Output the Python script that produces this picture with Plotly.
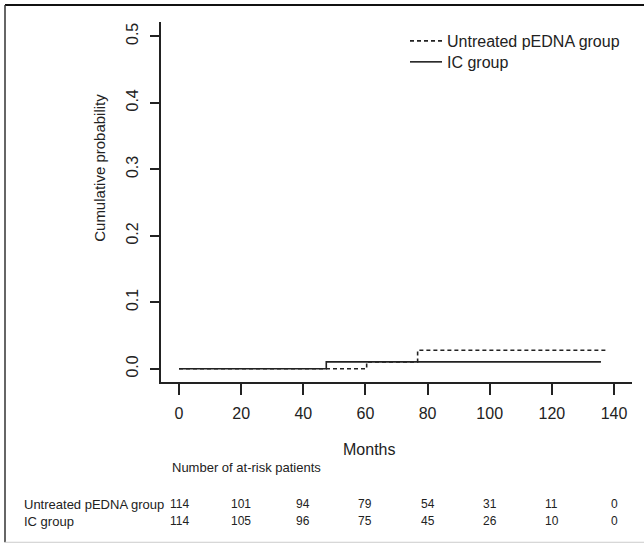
import plotly.graph_objects as go

# ---- data ----
ic_months = [0, 47.4, 135.8]
ic_prob = [0.0, 0.0105, 0.0105]
untreated_months = [0, 60.4, 76.8, 137.6]
untreated_prob = [0.0, 0.0105, 0.028, 0.028]

x_ticks = [0, 20, 40, 60, 80, 100, 120, 140]
y_ticks = [0.0, 0.1, 0.2, 0.3, 0.4, 0.5]
y_ticklabels = ["0.0", "0.1", "0.2", "0.3", "0.4", "0.5"]

risk_times = [0, 20, 40, 60, 80, 100, 120, 140]
risk_untreated = [114, 101, 94, 79, 54, 31, 11, 0]
risk_ic = [114, 105, 96, 75, 45, 26, 10, 0]

name_untreated = "Untreated pEDNA group"
name_ic = "IC group"

# ---- layout geometry (pixels) ----
W, H = 644, 546
L, R, T, B = 161, 632, 22, 382.5
pw, ph = R - L, B - T

def px(x):
    return (x - L) / pw

def py(y):
    return (B - y) / ph

FONT = "Liberation Sans, Arial, sans-serif"
INK = "#222222"

fig = go.Figure()
fig.add_trace(go.Scatter(x=untreated_months, y=untreated_prob, mode="lines",
                         line=dict(shape="hv", color=INK, width=1.6, dash="4px,3px"),
                         name=name_untreated, legend="legend"))
fig.add_trace(go.Scatter(x=ic_months, y=ic_prob, mode="lines",
                         line=dict(shape="hv", color=INK, width=1.6),
                         name=name_ic, legend="legend2"))

annotations = []
annotations.append(dict(text="Cumulative probability", textangle=-90,
                        x=px(100), y=py(168), xref="paper", yref="paper",
                        xanchor="center", yanchor="middle",
                        showarrow=False, font=dict(size=15, color=INK, family=FONT)))
annotations.append(dict(text="Months", x=px(369), y=py(450), xref="paper", yref="paper",
                        xanchor="center", yanchor="middle",
                        showarrow=False, font=dict(size=16, color=INK, family=FONT)))
annotations.append(dict(text="Number of at-risk patients", x=px(170), y=py(468),
                        xref="paper", yref="paper", xanchor="left", yanchor="middle",
                        showarrow=False, font=dict(size=13, color=INK, family=FONT)))
for label, row, ypix in [(name_untreated, risk_untreated, 505), (name_ic, risk_ic, 522)]:
    annotations.append(dict(text=label, x=px(22), y=py(ypix), xref="paper", yref="paper",
                            xanchor="left", yanchor="middle", showarrow=False,
                            font=dict(size=13, color=INK, family=FONT)))
    for t, n in zip(risk_times, row):
        annotations.append(dict(text=str(n), x=t, y=py(ypix), xref="x", yref="paper",
                                xanchor="center", yanchor="middle", showarrow=False,
                                font=dict(size=12, color=INK,
                                          family="Liberation Sans Narrow, Liberation Sans, Arial")))

shapes = [
    dict(type="line", xref="paper", yref="paper", x0=px(5), x1=px(644), y0=py(5), y1=py(5),
         line=dict(color="#111111", width=2)),
    dict(type="line", xref="paper", yref="paper", x0=px(5), x1=px(5), y0=py(5), y1=py(543),
         line=dict(color="#333333", width=1.5)),
    dict(type="line", xref="paper", yref="paper", x0=px(5), x1=px(644), y0=py(543), y1=py(543),
         line=dict(color="#cccccc", width=1)),
]

xr0 = (L - 179) / ((614 - 179) / 140)
xr1 = (R - 179) / ((614 - 179) / 140)
upp = 666.0
yr0 = -(B - 369.3) / upp
yr1 = (369.3 - T) / upp

legend_common = dict(xanchor="left", yanchor="middle", bgcolor="rgba(0,0,0,0)",
                     font=dict(size=16, family=FONT, color=INK), itemwidth=32)

fig.update_layout(
    width=W, height=H,
    margin=dict(l=L, r=W - R, t=T, b=H - B, pad=0),
    paper_bgcolor="white", plot_bgcolor="white",
    font=dict(family=FONT, color=INK, size=16),
    showlegend=True,
    legend=dict(x=px(405), y=py(41), **legend_common),
    legend2=dict(x=px(405), y=py(62), **legend_common),
    xaxis=dict(range=[xr0, xr1], tickvals=x_ticks, showgrid=False, zeroline=False,
               showline=True, linecolor=INK, linewidth=1.6, ticks="outside",
               ticklen=11, tickwidth=1.6, tickcolor=INK, ticklabelstandoff=5,
               tickfont=dict(size=16, family=FONT, color=INK)),
    yaxis=dict(range=[yr0, yr1], tickvals=y_ticks, ticktext=y_ticklabels, tickangle=-90,
               showgrid=False, zeroline=False, showline=True, linecolor=INK,
               linewidth=1.6, ticks="outside", ticklen=9, tickwidth=1.6, tickcolor=INK,
               ticklabelstandoff=6,
               tickfont=dict(size=16, family=FONT, color=INK)),
    annotations=annotations,
    shapes=shapes,
)

fig.write_html("out.html", config={"displayModeBar": False},
               post_script="document.body.style.margin='0';")
